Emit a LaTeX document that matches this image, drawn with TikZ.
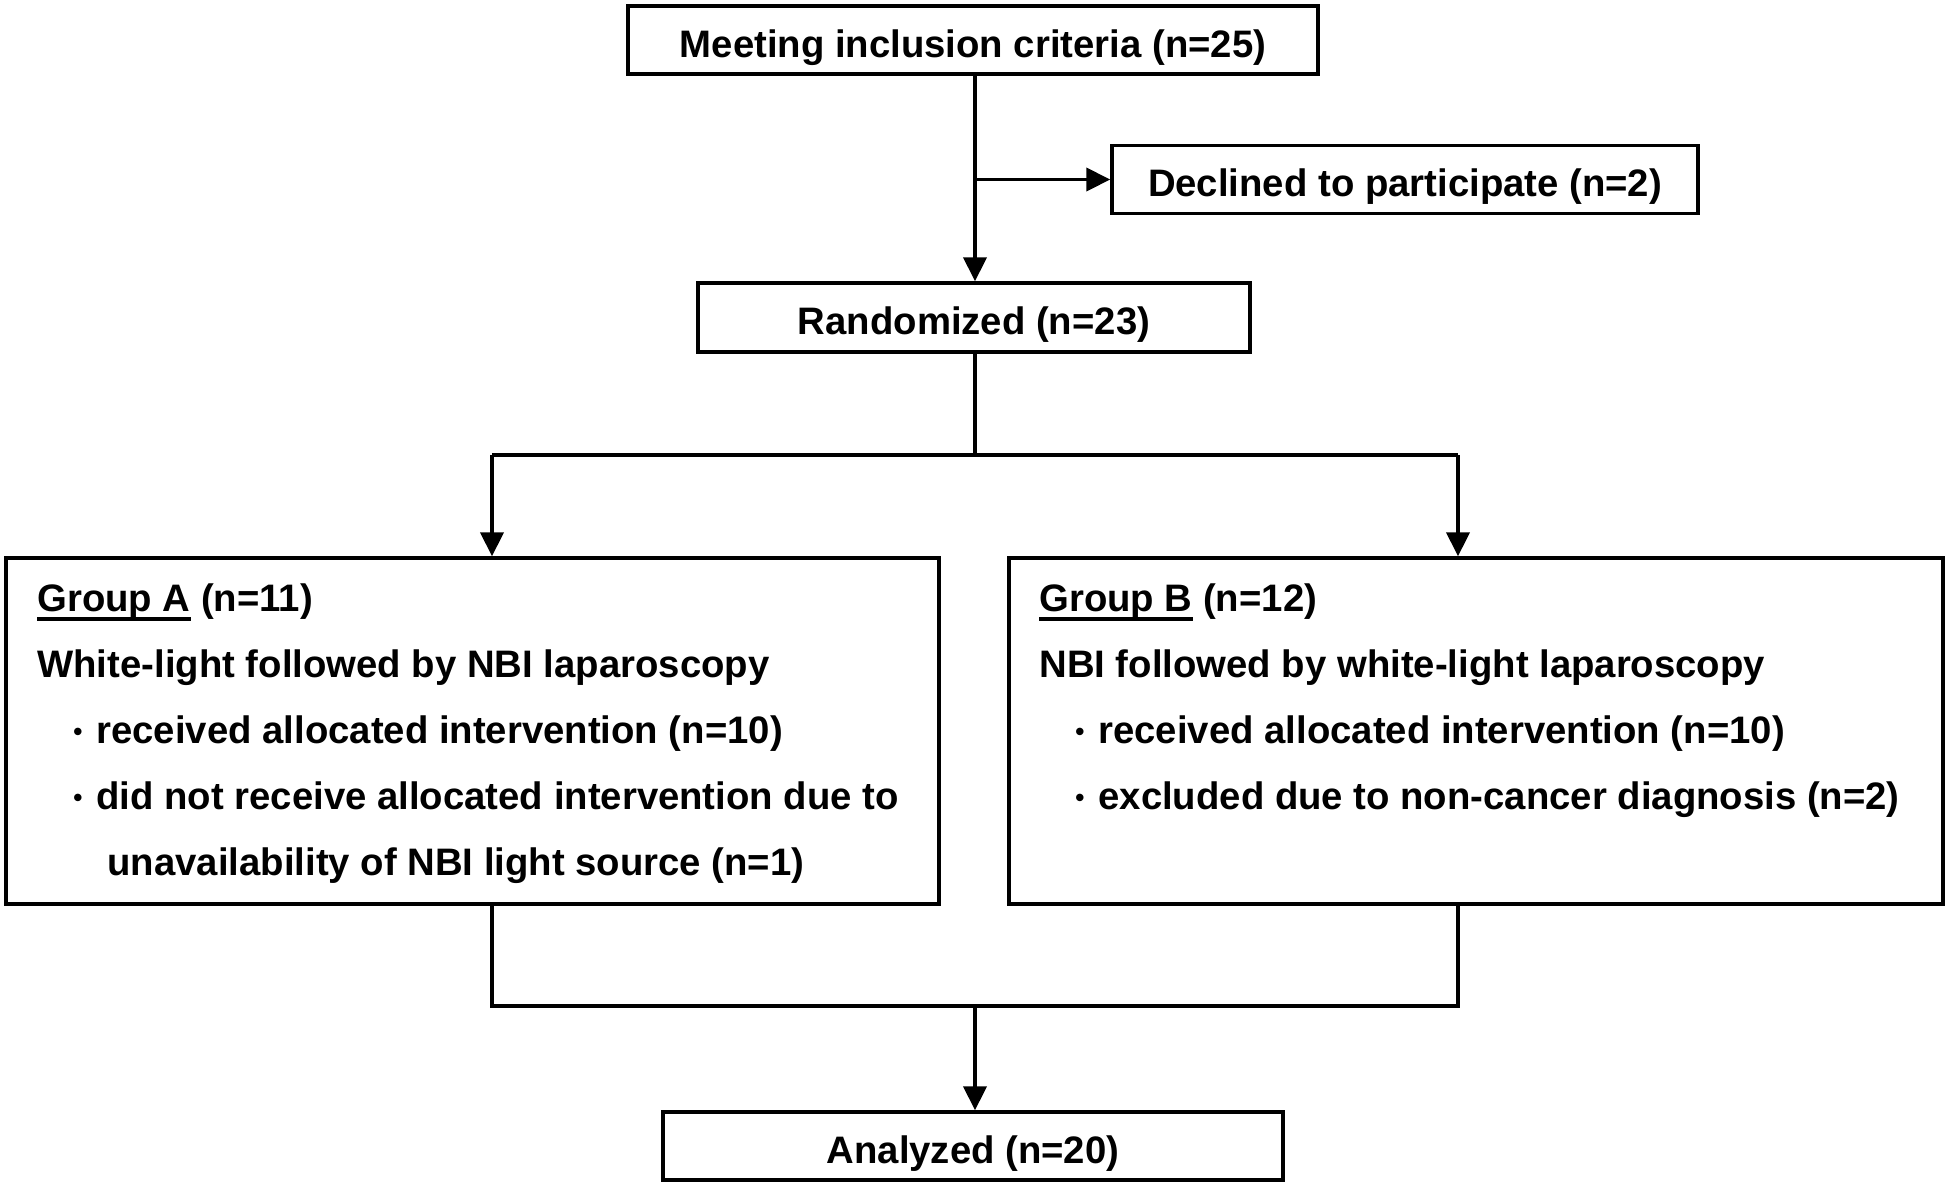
\documentclass[tikz,border=0pt]{standalone}
\usepackage{fontspec}
\setmainfont{Liberation Sans}
\usetikzlibrary{arrows.meta}
\newlength{\ulwidth}
\newcommand{\ulgrp}[1]{\settowidth{\ulwidth}{#1}\rlap{\rule[-4.8pt]{\ulwidth}{1.8pt}}#1}
\newcommand{\itembul}{\llap{\raisebox{1.1pt}{\fontsize{13}{13}\selectfont •}\hspace{7pt}}}
\tikzset{
  fnt/.style={font=\fontsize{19.15}{23}\selectfont\bfseries},
  box/.style={draw, line width=1.7pt, inner sep=0pt, text height=17pt, text depth=0pt, fnt},
  conn/.style={line width=1.9pt},
  arr/.style={line width=1.9pt, -{Triangle[length=12pt,width=11.5pt]}},
  txt/.style={inner sep=0pt, anchor=base west, fnt},
}
\begin{document}
\begin{tikzpicture}[x=0.5pt,y=-0.5pt]
\useasboundingbox (0,0) rectangle (1950,1190);
% boxes
\node[box, minimum width=345pt, minimum height=34pt] (top) at (973,40) {Meeting inclusion criteria (n=25)};
\node[box, minimum width=293pt, minimum height=34pt] (decl) at (1405,179.5) {Declined to participate (n=2)};
\node[box, minimum width=276pt, minimum height=34.5pt] (rand) at (974,317.5) {Randomized (n=23)};
\node[box, minimum width=466.5pt, minimum height=173pt] (ga) at (472.5,731) {};
\node[box, minimum width=467pt, minimum height=173pt] (gb) at (1476,731) {};
\node[box, minimum width=310pt, minimum height=34pt] (ana) at (973,1146) {Analyzed (n=20)};
% group A text
\node[txt] (ga1) at (37,611) {\ulgrp{Group A} (n=11)};
\node[txt] (ga2) at (37,677) {White-light followed by NBI laparoscopy};
\node[txt] (ga3) at (96,743) {\itembul received allocated intervention (n=10)};
\node[txt] (ga4) at (96,809) {\itembul did not receive allocated intervention due to};
\node[txt] (ga5) at (107,875) {unavailability of NBI light source (n=1)};
% group B text
\node[txt] (gb1) at (1039,611) {\ulgrp{Group B} (n=12)};
\node[txt] (gb2) at (1039,677) {NBI followed by white-light laparoscopy};
\node[txt] (gb3) at (1098,743) {\itembul received allocated intervention (n=10)};
\node[txt] (gb4) at (1098,809) {\itembul excluded due to non-cancer diagnosis (n=2)};
% connectors
\coordinate (br) at (975,179.5);
\draw[arr] (top.south -| br) -- (rand.north -| br);
\draw[arr] (br) -- (decl.west);
\coordinate (sL) at (492,455);
\coordinate (sR) at (1458,455);
\coordinate (sC) at (975,455);
\draw[conn] (rand.south -| sC) -- (sC);
\draw[conn] (sL) -- (sR);
\draw[arr] (sL) -- (sL |- ga.north);
\draw[arr] (sR) -- (sR |- gb.north);
\coordinate (mL) at (492,1006);
\coordinate (mR) at (1458,1006);
\coordinate (mC) at (975,1006);
\draw[conn] (mL |- ga.south) -- (mL) -- (mR) -- (mR |- gb.south);
\draw[arr] (mC) -- (mC |- ana.north);
\end{tikzpicture}
\end{document}
